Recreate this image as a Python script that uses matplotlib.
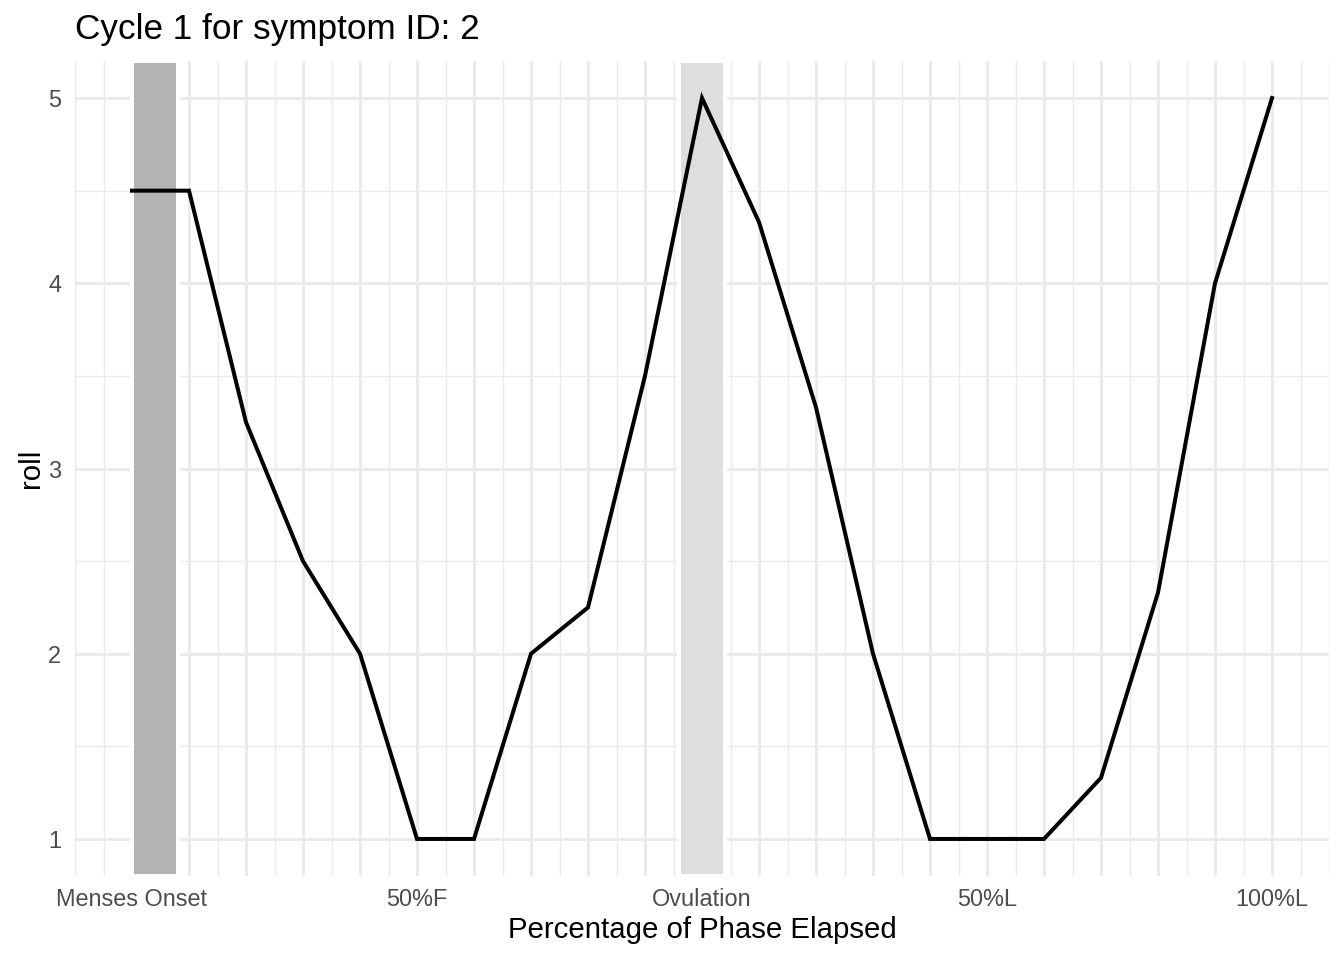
import numpy as np
import matplotlib.pyplot as plt

plt.rcParams['font.family'] = ['Liberation Sans', 'DejaVu Sans']

# percentage of phase elapsed (-1 = menses onset, 0 = ovulation, 1 = end of luteal)
phase_pct = [-1.0, -0.9, -0.8, -0.7, -0.6, -0.5, -0.4, -0.3, -0.2, -0.1, 0.0,
             0.1, 0.2, 0.3, 0.4, 0.5, 0.6, 0.7, 0.8, 0.9, 1.0]
roll = [4.5, 4.5, 3.25, 2.5, 2.0, 1.0, 1.0, 2.0, 2.25, 3.5, 5.0,
        4.33, 3.33, 2.0, 1.0, 1.0, 1.0, 1.33, 2.33, 4.0, 5.0]

tick_pos = [-1.0, -0.5, 0.0, 0.5, 1.0]
tick_labels = ["Menses Onset", "50%F", "Ovulation", "50%L", "100%L"]

menses_span = (-1.0, -0.92)
ovulation_span = (-0.04, 0.04)

fig = plt.figure(figsize=(7, 5), dpi=192)
ax = fig.add_axes([75 / 1344, 1 - 876 / 960, 1254 / 1344, 815 / 960])

ax.set_xlim(-1.1, 1.1)
ax.set_ylim(0.8, 5.2)

# grid: major every 0.1, minor halfway between
major_x = np.round(np.arange(-1.0, 1.001, 0.1), 2)
minor_x = np.round(np.arange(-1.1, 1.101, 0.1), 2)
minor_x = np.concatenate([minor_x, np.round(np.arange(-1.05, 1.06, 0.1), 2)])
minor_x = [m for m in minor_x if not np.isclose(major_x, m).any()]
ax.set_xticks(major_x)
ax.set_xticklabels([tick_labels[tick_pos.index(v)] if v in tick_pos else "" for v in major_x])
ax.set_xticks(minor_x, minor=True)
ax.set_yticks([1, 2, 3, 4, 5])
ax.set_yticks([1.5, 2.5, 3.5, 4.5], minor=True)

ax.grid(which='major', color='#EBEBEB', linewidth=1.1)
ax.grid(which='minor', color='#EBEBEB', linewidth=0.55)
ax.set_axisbelow(True)
ax.tick_params(which='both', length=0)
ax.tick_params(axis='x', pad=4.5, labelsize=8.8, labelcolor='#4D4D4D')
ax.tick_params(axis='y', pad=5.2, labelsize=8.8, labelcolor='#4D4D4D')
for s in ax.spines.values():
    s.set_visible(False)

ax.axvspan(*menses_span, facecolor='#B3B3B3', edgecolor='white', linewidth=1.5, zorder=2)
ax.axvspan(*ovulation_span, facecolor='#DEDEDE', edgecolor='white', linewidth=1.5, zorder=2)

ax.plot(phase_pct, roll, color='black', linewidth=1.5, zorder=3, solid_joinstyle='miter')

ax.set_xlabel("Percentage of Phase Elapsed", fontsize=11, labelpad=2)
ax.set_ylabel("roll", fontsize=11, labelpad=1)
fig.text(75 / 1344, 1 - 39 / 960, "Cycle 1 for symptom ID: 2", fontsize=13.2,
         ha='left', va='baseline')

fig.savefig("out.png", dpi=192)
